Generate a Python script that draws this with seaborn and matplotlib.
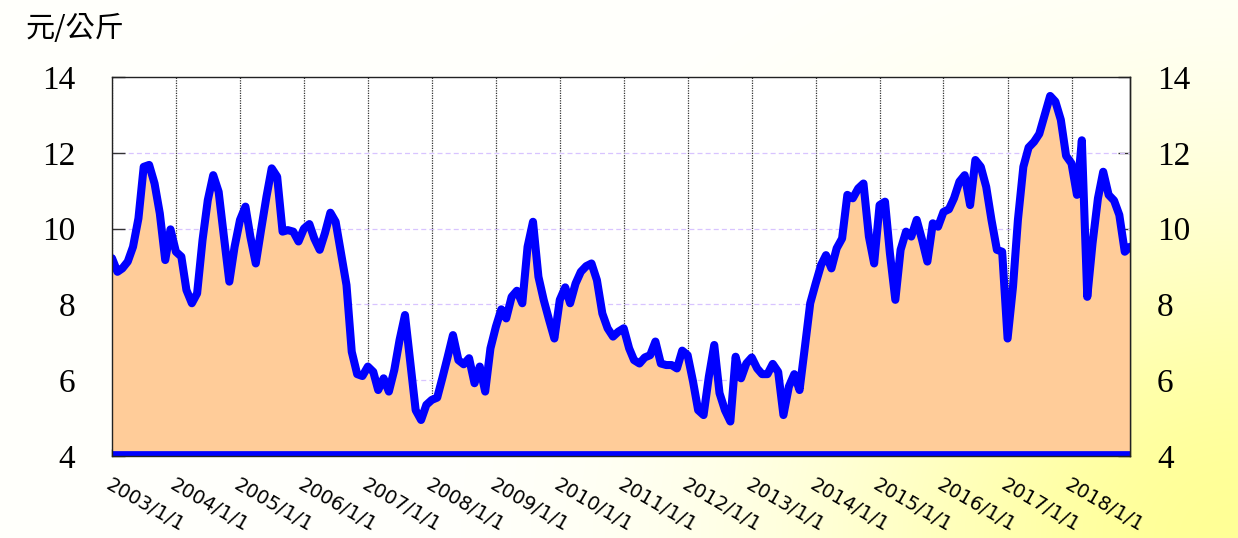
import numpy as np
import pandas as pd
import matplotlib
matplotlib.use("Agg")
import matplotlib.pyplot as plt
import seaborn as sns

# ---------------- data ----------------
start_month = "2003-01-01"
prices = [
    9.22, 8.86, 8.95, 9.13, 9.52, 10.27, 11.63, 11.68, 11.19, 10.40, 9.17, 9.98,
    9.39, 9.26, 8.38, 8.03, 8.29, 9.70, 10.75, 11.41, 10.97, 9.79, 8.60, 9.52,
    10.23, 10.58, 9.79, 9.08, 9.96, 10.84, 11.59, 11.37, 9.92, 9.96, 9.92, 9.66,
    10.00, 10.12, 9.74, 9.44, 9.88, 10.42, 10.18, 9.35, 8.51, 6.75, 6.16, 6.11,
    6.36, 6.22, 5.74, 6.05, 5.70, 6.27, 7.06, 7.72, 6.44, 5.21, 4.95, 5.35,
    5.48, 5.54, 6.05, 6.62, 7.19, 6.53, 6.42, 6.58, 5.92, 6.36, 5.70, 6.84,
    7.41, 7.87, 7.63, 8.20, 8.36, 8.03, 9.52, 10.18, 8.73, 8.12, 7.59, 7.10,
    8.12, 8.45, 8.03, 8.55, 8.86, 9.01, 9.08, 8.64, 7.76, 7.37, 7.15, 7.28,
    7.37, 6.84, 6.53, 6.44, 6.60, 6.66, 7.02, 6.44, 6.40, 6.40, 6.31, 6.78,
    6.66, 5.96, 5.21, 5.08, 6.09, 6.93, 5.66, 5.21, 4.91, 6.62, 6.05, 6.44,
    6.60, 6.31, 6.16, 6.16, 6.43, 6.22, 5.08, 5.83, 6.16, 5.74, 6.89, 8.03,
    8.55, 9.04, 9.30, 8.95, 9.48, 9.74, 10.89, 10.80, 11.06, 11.19, 9.79, 9.08,
    10.62, 10.71, 9.35, 8.12, 9.44, 9.92, 9.79, 10.23, 9.70, 9.13, 10.14, 10.05,
    10.44, 10.51, 10.80, 11.24, 11.41, 10.62, 11.81, 11.63, 11.10, 10.23, 9.44, 9.39,
    7.10, 8.47, 10.23, 11.63, 12.14, 12.29, 12.50, 13.00, 13.50, 13.35, 12.87, 11.92,
    11.72, 10.89, 12.33, 8.20, 9.61, 10.80, 11.50, 10.89, 10.74, 10.36, 9.39, 9.52,
]
tick_years = list(range(2003, 2019))
tick_labels = [f"{y}/1/1" for y in tick_years]
y_ticks = [4, 6, 8, 10, 12, 14]
unit_label = "元/公斤"

# ---------------- style ----------------
sns.set_theme(style="white")
plt.rcParams["font.family"] = ["DejaVu Sans"]

dates = pd.date_range(start_month, periods=len(prices), freq="MS")
df = pd.DataFrame({"date": dates, "price": prices})
year_starts = pd.to_datetime([f"{y}-01-01" for y in tick_years])

W, H = 1238, 538
fig = plt.figure(figsize=(W / 100, H / 100), dpi=100)

# background gradient (white -> pale yellow toward bottom-right corner)
bg = fig.add_axes([0, 0, 1, 1], zorder=-10)
yy, xx = np.mgrid[0:H, 0:W]
t = np.exp(-((W - xx) / 430.0) ** 2 - ((H - yy) / 360.0) ** 2)
t = np.maximum(t, 0.03)[..., None]
white = np.array([1.0, 1.0, 1.0])
yellow = np.array([1.0, 1.0, 150 / 255])
img = white * (1 - t) + yellow * t
bg.imshow(img, aspect="auto", extent=[0, 1, 0, 1], origin="upper")
bg.axis("off")

ax = fig.add_axes([112 / W, 82 / H, 1018 / W, 379 / H])
ax.set_facecolor("white")

# gridlines (behind the fill)
for dt in year_starts:
    ax.axvline(dt, color="#333333", ls=(0, (1, 1)), lw=0.9, zorder=0.5)
for v in y_ticks[1:-1]:
    ax.axhline(v, color="#D8C4FF", ls=(0, (4, 2.5)), lw=0.9, zorder=0.5)

ax.fill_between(df["date"], y_ticks[0], df["price"], color="#FFCC99", lw=0, zorder=1)
sns.lineplot(data=df, x="date", y="price", ax=ax, color="#0000FF", lw=5.8,
             zorder=3, solid_joinstyle="round", solid_capstyle="round")
ax.axhline(y_ticks[0], color="#0000FF", lw=7, zorder=3.5)

ax.set_xlim(dates[0], dates[-1])
ax.set_ylim(y_ticks[0], y_ticks[-1])
ax.set_xlabel("")
ax.set_ylabel("")

ax.set_xticks(year_starts)
ax.set_xticklabels(tick_labels)
ax.tick_params(axis="x", bottom=True, direction="in", length=5, width=1,
               color="#333333", pad=14, labelsize=14, labelcolor="black")
for lab in ax.get_xticklabels():
    lab.set_rotation(-30)
    lab.set_ha("left")
    lab.set_va("top")
    lab.set_rotation_mode("anchor")

ax.set_yticks(y_ticks)
ax.tick_params(axis="y", left=True, direction="in", length=9, width=1,
               color="#333333", pad=26.5, labelsize=24, labelcolor="black")
for lab in ax.get_yticklabels():
    lab.set_fontfamily("Liberation Serif")

sec = ax.secondary_yaxis("right")
sec.set_yticks(y_ticks)
sec.tick_params(direction="in", length=9, width=1, color="#333333",
                pad=19.5, labelsize=24, labelcolor="black")
for lab in sec.get_yticklabels():
    lab.set_fontfamily("Liberation Serif")
for s in sec.spines.values():
    s.set_color("#222222")
    s.set_linewidth(1)

for s in ax.spines.values():
    s.set_color("#222222")
    s.set_linewidth(1)
    s.set_zorder(4)

fig.text(26 / W, 1 - 14 / H, unit_label, family=["Noto Sans CJK TC", "DejaVu Sans"],
         fontsize=21, va="top", ha="left", color="black")

fig.savefig("out.png", dpi=100)
